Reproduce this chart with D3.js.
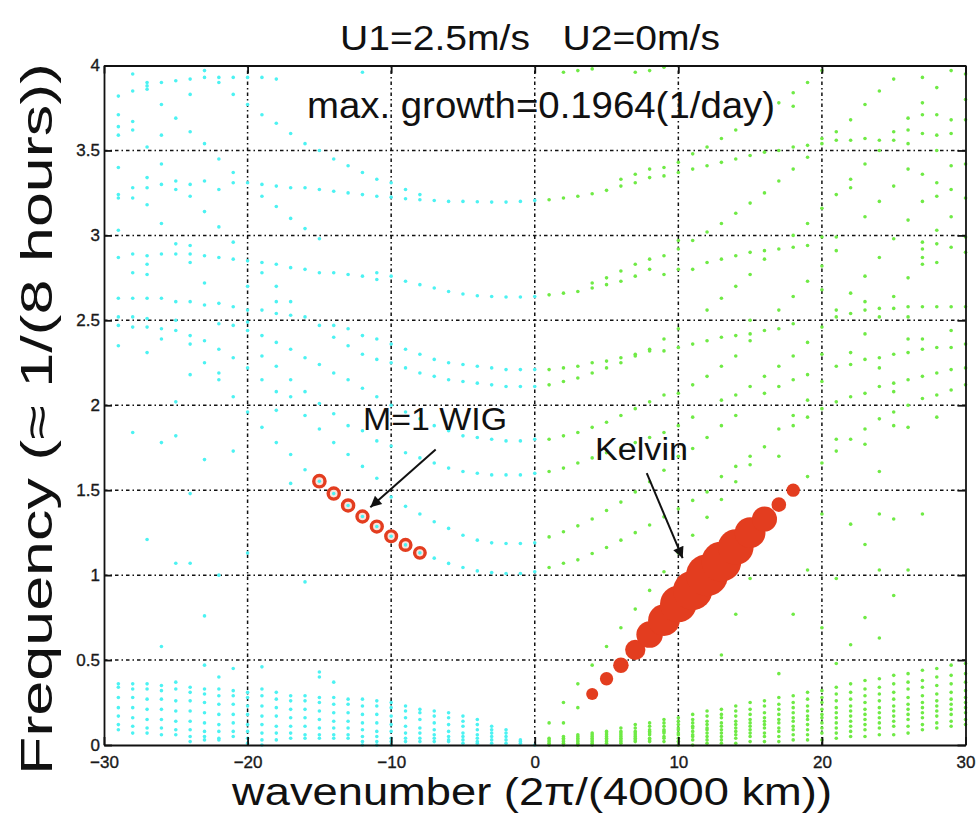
<!DOCTYPE html>
<html>
<head>
<meta charset="utf-8">
<script src="https://cdn.jsdelivr.net/npm/d3@7"></script>
<style>
  body { margin: 0; background: #fff; }
  text { font-family: 'Liberation Sans', Arial, sans-serif; }
</style>
</head>
<body>
<svg width="977" height="818"></svg>
<script>
// axis ticks
const xTicks = [-30, -20, -10, 0, 10, 20, 30]
const xTickLabels = ['\u221230', '\u221220', '\u221210', '0', '10', '20', '30']
const yTicks = [0, 0.5, 1, 1.5, 2, 2.5, 3, 3.5, 4]
const yTickLabels = ['0', '0.5', '1', '1.5', '2', '2.5', '3', '3.5', '4']

// unstable modes (circle size ~ growth rate, 1/day)
const kelvinK = [4, 5, 6, 7, 8, 9, 10, 11, 12, 13, 14, 15, 16, 17, 18]
const kelvinF = [0.30, 0.39, 0.47, 0.56, 0.65, 0.735, 0.83, 0.91, 1.0, 1.08, 1.165, 1.25, 1.33, 1.415, 1.5]
const kelvinGrowth = [0.033, 0.04, 0.052, 0.078, 0.112, 0.14, 0.167, 0.182, 0.1964, 0.185, 0.162, 0.135, 0.104, 0.047, 0.04]
const wigK = [-15, -14, -13, -12, -11, -10, -9, -8]
const wigF = [1.553, 1.48, 1.41, 1.345, 1.286, 1.229, 1.178, 1.131]
const wigGrowth = [0.031, 0.03, 0.03, 0.029, 0.029, 0.028, 0.028, 0.027]

// westward modes (cyan), each row: [wavenumber, frequencies...]
const westLow = [
  [-29, .36, .34, .28, .22, .17, .12, .09],
  [-28, .36, .33, .28, .22, .16, .11, .07],
  [-27, .36, .33, .27, .21, .15, .10, .07],
  [-26, .35, .32, .27, .21, .15, .10, .06],
  [-25, .37, .33, .26, .20, .14, .09, .06],
  [-24, .34, .31, .26, .20, .14, .09, .05, .02],
  [-23, .33, .30, .25, .19, .13, .08, .05, .03],
  [-22, .33, .29, .24, .18, .12, .08, .04, .03],
  [-21, .32, .29, .24, .18, .13, .08, .05],
  [-20, .31, .28, .23, .18, .12, .08, .04, .01],
  [-19, .33, .29, .23, .17, .12, .07, .03, 0],
  [-18, .31, .27, .22, .17, .11, .07, .03],
  [-17, .29, .26, .21, .16, .11, .07, .04],
  [-16, .29, .26, .21, .16, .11, .06, .04],
  [-15, .28, .25, .20, .15, .10, .06, .04],
  [-14, .28, .24, .19, .14, .10, .06, .04],
  [-13, .27, .24, .19, .14, .10, .06, .04],
  [-12, .27, .23, .18, .13, .09, .05, .02, 0],
  [-11, .26, .23, .18, .13, .08, .05, .02, 0],
  [-10, .25, .22, .17, .12, .08, .04, .02, 0],
  [-9, .23, .20, .16, .11, .07, .04, .02],
  [-8, .21, .19, .15, .10, .07, .04, .02],
  [-7, .20, .17, .13, .09, .06, .04, .02],
  [-6, .19, .16, .12, .08, .05, .03, .02],
  [-5, .17, .14, .11, .07, .05, .03, .01],
  [-4, .15, .12, .09, .06, .04, .02, .01],
  [-3, .11, .09, .07, .05, .03, .01],
  [-2, .09, .07, .05, .03, .01],
  [-1, .03, .02, .01],
  [0, 0]
]
const westHigh = [
  [-29, 3.82, 3.71, 3.64, 3.59, 3.40, 3.24, 3.22, 3.03, 2.87, 2.63, 2.52, 2.47, 2.35],
  [-28, 3.95, 3.85, 3.67, 3.62, 3.28, 3.22, 2.89, 2.78, 2.63, 2.52, 2.46, 1.84],
  [-27, 3.90, 3.88, 3.86, 3.52, 3.34, 3.28, 3.18, 2.88, 2.83, 2.77, 2.63, 2.51, 2.46, 2.31, 1.21],
  [-26, 3.90, 3.77, 3.59, 3.42, 3.30, 3.07, 2.89, 2.63, 2.45, 2.39, 1.78, 0.58],
  [-25, 3.91, 3.69, 3.32, 3.27, 2.95, 2.89, 2.61, 2.50, 2.44, 2.02, 1.82, 1.07],
  [-24, 3.92, 3.83, 3.61, 3.30, 3.23, 2.94, 2.89, 2.84, 2.61, 2.41, 2.36, 2.18, 1.48, 1.07],
  [-23, 3.97, 3.93, 3.54, 3.32, 3.14, 2.88, 2.72, 2.59, 2.38, 2.25, 1.68, 0.76, 0.47],
  [-22, 3.93, 3.90, 3.45, 3.27, 3.05, 2.87, 2.60, 2.48, 2.33, 2.19, 2.15, 1.0, 0.40],
  [-21, 3.93, 3.83, 3.37, 3.31, 2.96, 2.86, 2.58, 2.47, 2.28, 2.05, 1.73, 0.45],
  [-20, 3.93, 3.77, 3.31, 2.85, 2.70, 2.56, 2.49, 2.44, 2.22, 1.96, 1.13],
  [-19, 3.93, 3.71, 3.30, 3.23, 2.84, 2.78, 2.56, 2.41, 2.29, 2.15, 1.87, 0.46],
  [-18, 3.92, 3.66, 3.29, 3.17, 2.83, 2.70, 2.61, 2.54, 2.37, 2.23, 2.08, 1.97, 1.78],
  [-17, 3.60, 3.28, 3.10, 2.81, 2.61, 2.53, 2.33, 2.15, 2.05, 1.71, 1.54],
  [-16, 3.54, 3.28, 3.04, 2.80, 2.52, 2.28, 2.08, 1.94, 1.62, 0.96],
  [-15, 3.50, 3.27, 2.98, 2.78, 2.47, 2.24, 2.01, 1.86, 1.553, 0.43, 0.40],
  [-14, 3.45, 3.26, 2.78, 2.47, 2.40, 2.19, 1.95, 1.78, 1.48, 0.37],
  [-13, 3.41, 3.25, 2.77, 2.45, 2.35, 2.15, 1.88, 1.71, 1.41],
  [-12, 3.96, 3.37, 3.24, 2.76, 2.41, 2.30, 2.10, 1.85, 1.64, 1.345],
  [-11, 3.33, 3.23, 2.78, 2.74, 2.39, 2.27, 2.05, 1.79, 1.57, 1.286],
  [-10, 3.31, 3.225, 2.76, 2.36, 2.25, 2.0, 1.76, 1.46, 1.229],
  [-9, 3.27, 3.216, 2.73, 2.33, 2.22, 1.96, 1.72, 1.405, 1.178],
  [-8, 3.24, 3.21, 2.71, 2.30, 2.19, 1.92, 1.69, 1.36, 1.131],
  [-7, 3.205, 2.69, 2.27, 2.17, 1.88, 1.66, 1.314, 1.10],
  [-6, 3.20, 2.67, 2.25, 2.15, 1.85, 1.63, 1.275, 1.069],
  [-5, 3.20, 2.655, 2.24, 2.14, 1.82, 1.61, 1.235, 1.045],
  [-4, 3.198, 2.645, 2.23, 2.13, 1.81, 1.60, 1.206, 1.025],
  [-3, 3.196, 2.64, 2.22, 2.12, 1.80, 1.59, 1.19, 1.015],
  [-2, 3.196, 2.637, 2.21, 2.11, 1.79, 1.59, 1.186, 1.01],
  [-1, 3.20, 2.637, 2.21, 2.11, 1.79, 1.59, 1.186, 1.01],
  [0, 3.206, 2.64, 2.21, 2.11, 1.80, 1.60, 1.19, 1.02]
]

// eastward modes (green)
const eastLow = [
  [1, .04, .03, .02, .01, 0],
  [2, .05, .04, .03, .02, .01, 0],
  [3, .06, .05, .04, .03, .02, .01, 0],
  [4, .07, .06, .05, .04, .03, .02, .01, 0],
  [5, .08, .07, .06, .05, .04, .03, .02, .01],
  [6, .10, .08, .07, .06, .05, .04, .03, .02, .01],
  [7, .12, .10, .08, .07, .06, .05, .04, .03, .02],
  [8, .13, .11, .09, .08, .07, .06, .04, .03, .02],
  [9, .15, .13, .11, .09, .08, .07, .05, .04, .02],
  [10, .16, .14, .12, .10, .09, .07, .06, .04, .02, 0],
  [11, .18, .15, .13, .11, .10, .08, .06, .05, .03, 0],
  [12, .20, .17, .14, .12, .10, .09, .07, .05, .03, .01],
  [13, .21, .18, .16, .13, .11, .09, .07, .05, .03, .01],
  [14, .23, .20, .17, .14, .12, .10, .08, .06, .04, .01],
  [15, .25, .21, .18, .15, .13, .11, .09, .07, .05, .02],
  [16, .26, .23, .19, .16, .14, .12, .10, .07, .05, .02],
  [17, .28, .24, .21, .18, .15, .13, .10, .08, .05, .02],
  [18, .29, .25, .22, .19, .16, .14, .11, .09, .06, .03],
  [19, .31, .27, .23, .20, .17, .15, .12, .09, .06, .03],
  [20, .32, .28, .25, .21, .18, .16, .13, .10, .07, .03],
  [21, .34, .30, .26, .22, .19, .16, .13, .10, .07, .04],
  [22, .36, .31, .27, .23, .20, .17, .14, .11, .08, .05],
  [23, .38, .33, .29, .25, .21, .18, .15, .12, .09, .05],
  [24, .39, .34, .30, .26, .22, .19, .16, .13, .10, .06],
  [25, .41, .36, .31, .27, .23, .20, .17, .14, .11, .06],
  [26, .42, .37, .33, .28, .24, .21, .18, .15, .11, .07],
  [27, .44, .38, .34, .29, .25, .22, .19, .16, .12, .09],
  [28, .45, .40, .35, .30, .26, .23, .20, .17, .13, .10],
  [29, .47, .41, .36, .31, .27, .24, .21, .18, .14, .11],
  [30, .48, .42, .37, .32, .28, .25, .22, .19, .15, .12]
]
const eastHigh = [
  [1, 3.21, 2.65, 2.21, 2.12, 1.80, 1.61, 1.225, 1.045, 0.13],
  [2, 3.96, 3.22, 2.66, 2.22, 2.14, 1.82, 1.63, 1.255, 1.07, 0.25, 0.13],
  [3, 3.97, 3.23, 2.67, 2.23, 2.16, 1.84, 1.66, 1.29, 1.09, 0.36, 0.22],
  [4, 3.98, 3.245, 2.72, 2.69, 2.25, 2.19, 1.87, 1.69, 1.33, 1.127, 0.47],
  [5, 3.265, 2.75, 2.71, 2.26, 2.22, 1.90, 1.72, 1.38, 1.163, 0.58],
  [6, 3.33, 3.29, 2.79, 2.73, 2.28, 2.25, 1.94, 1.75, 1.43, 1.206, 0.69],
  [7, 3.96, 3.36, 3.31, 2.83, 2.76, 2.30, 2.29, 1.98, 1.78, 1.49, 1.25, 0.80],
  [8, 3.97, 3.39, 3.34, 2.86, 2.80, 2.33, 2.32, 2.02, 1.81, 1.55, 1.295, 0.91],
  [9, 3.99, 3.40, 3.35, 2.88, 2.77, 2.39, 2.32, 2.06, 1.84, 1.617, 1.343, 1.02],
  [10, 3.43, 3.37, 2.97, 2.92, 2.80, 2.45, 2.34, 2.07, 1.88, 1.70, 1.39, 1.13],
  [11, 3.48, 3.39, 2.97, 2.80, 2.36, 2.12, 1.93, 1.745, 1.44, 1.235],
  [12, 3.52, 3.41, 3.02, 2.84, 2.56, 2.38, 2.17, 1.81, 1.49, 1.34],
  [13, 3.57, 3.43, 3.07, 2.86, 2.63, 2.40, 2.23, 2.03, 1.88, 1.58, 1.445, 0.53],
  [14, 3.62, 3.45, 3.13, 2.88, 2.70, 2.41, 2.29, 2.06, 1.94, 1.64, 1.55, 0.77],
  [15, 3.47, 3.19, 2.90, 2.77, 2.50, 2.42, 2.38, 2.11, 1.70, 1.65, 0.98],
  [16, 3.49, 3.25, 2.91, 2.86, 2.44, 2.17, 2.07, 1.755],
  [17, 3.78, 3.50, 3.32, 2.92, 2.56, 2.45, 2.23, 2.11, 1.86, 1.70, 0.42],
  [18, 3.84, 3.76, 3.52, 3.39, 3.00, 2.93, 2.64, 2.48, 2.29, 2.15, 1.94, 1.88, 0.77],
  [19, 3.90, 3.53, 3.46, 3.07, 2.94, 2.73, 2.37, 2.18, 2.03, 1.93, 1.58, 1.03],
  [20, 3.97, 3.57, 3.54, 3.16, 2.99, 2.82, 2.68, 2.46, 2.30, 2.14, 1.98, 1.66, 1.36, 0.69],
  [21, 3.61, 3.56, 3.24, 2.99, 2.91, 2.56, 2.52, 2.23, 2.02, 1.80, 1.73, 0.98, 0.48],
  [22, 3.68, 3.56, 3.33, 3.28, 2.66, 2.54, 2.31, 2.24, 2.05, 1.80, 1.30, 0.59],
  [23, 3.77, 3.57, 3.42, 3.11, 2.76, 2.61, 2.56, 2.42, 2.27, 2.07, 1.86, 1.77, 1.18, 0.75],
  [24, 3.85, 3.56, 3.50, 3.20, 2.87, 2.57, 2.52, 2.28, 2.22, 2.11, 1.92, 1.61, 1.36, 1.03, 0.63],
  [25, 3.92, 3.61, 3.56, 3.29, 2.98, 2.64, 2.57, 2.30, 2.13, 2.08, 1.96, 1.88, 1.33, 0.88],
  [26, 3.69, 3.62, 3.54, 3.39, 3.09, 2.75, 2.58, 2.52, 2.39, 2.31, 2.15, 2.0, 1.87, 1.03],
  [27, 3.93, 3.78, 3.71, 3.60, 3.36, 3.20, 2.96, 2.92, 2.87, 2.83, 2.58, 2.39, 2.33, 2.17, 2.04, 1.36],
  [28, 3.87, 3.71, 3.59, 3.50, 3.31, 3.23, 3.03, 2.95, 2.84, 2.58, 2.34, 2.19, 2.06, 1.93],
  [29, 3.97, 3.68, 3.60, 3.41, 3.27, 3.11, 2.93, 2.58, 2.44, 2.34, 2.21, 2.09],
  [30, 3.95, 3.80, 3.68, 3.42, 3.22, 2.99, 2.90, 2.58, 2.36, 2.22, 2.12]
]

const svg = d3.select('svg')

const x = d3.scaleLinear().domain([-30, 30]).range([104, 965.5])
const y = d3.scaleLinear().domain([0, 4]).range([745, 65.5])
const r = d3.scaleLinear().domain([0, 0.1964]).range([3, 21])

const cyan = '#4cf2f2'
const green = '#6fea45'
const red = '#e33d1f'

// rows -> points
const toPoints = rows => rows.flatMap(row => row.slice(1).map(f => ({ k: row[0], f })))

// grid
const grid = svg.append('g').attr('class', 'grid')
  .attr('stroke', '#111').attr('stroke-width', 1.5).attr('stroke-dasharray', '3.5,3,1.5,3')
grid.selectAll('.gx').data(xTicks.slice(1, -1)).enter().append('line')
  .attr('x1', d => x(d)).attr('x2', d => x(d)).attr('y1', y(0)).attr('y2', y(4))
grid.selectAll('.gy').data(yTicks.slice(1, -1)).enter().append('line')
  .attr('x1', x(-30)).attr('x2', x(30)).attr('y1', d => y(d)).attr('y2', d => y(d))

// unstable modes
const wig = wigK.map((k, i) => ({ k, f: wigF[i], g: wigGrowth[i] }))
const kelvin = kelvinK.map((k, i) => ({ k, f: kelvinF[i], g: kelvinGrowth[i] }))

svg.append('g').selectAll('circle').data(kelvin).enter().append('circle')
  .attr('cx', d => x(d.k)).attr('cy', d => y(d.f)).attr('r', d => r(d.g))
  .attr('fill', red)

svg.append('g').selectAll('circle').data(wig).enter().append('circle')
  .attr('cx', d => x(d.k)).attr('cy', d => y(d.f)).attr('r', d => r(d.g) - 0.2)
  .attr('fill', '#fbe3dc').attr('stroke', red).attr('stroke-width', 3.4)

// dispersion dots
const drawDots = (rows, color) => {
  svg.append('g').selectAll('circle').data(toPoints(rows)).enter().append('circle')
    .attr('cx', d => x(d.k)).attr('cy', d => y(d.f)).attr('r', 1.8)
    .attr('fill', color)
}
drawDots(westLow, cyan)
drawDots(westHigh, cyan)
drawDots(eastLow, green)
drawDots(eastHigh, green)

// axes (ticks inside, box on all sides)
const styleAxis = g => {
  g.attr('font-size', 17).attr('font-family', "'Liberation Sans', Arial, sans-serif")
  g.select('.domain').attr('stroke', '#111').attr('stroke-width', 1.8)
  g.selectAll('.tick line').attr('stroke', '#111').attr('stroke-width', 1.8)
  g.selectAll('.tick text').attr('fill', '#1a1a1a')
    .attr('stroke', '#1a1a1a').attr('stroke-width', 0.35)
}
svg.append('g').attr('transform', `translate(0,${y(0)})`)
  .call(d3.axisBottom(x).tickValues(xTicks).tickFormat((d, i) => xTickLabels[i])
    .tickSizeInner(-8).tickSizeOuter(0).tickPadding(11))
  .call(styleAxis)
svg.append('g').attr('transform', `translate(0,${y(4)})`)
  .call(d3.axisTop(x).tickValues(xTicks).tickSizeInner(-8).tickSizeOuter(0))
  .call(styleAxis)
  .call(g => g.selectAll('.tick text').remove())
svg.append('g').attr('transform', `translate(${x(-30)},0)`)
  .call(d3.axisLeft(y).tickValues(yTicks).tickFormat((d, i) => yTickLabels[i])
    .tickSizeInner(-8).tickSizeOuter(0).tickPadding(4))
  .call(styleAxis)
svg.append('g').attr('transform', `translate(${x(30)},0)`)
  .call(d3.axisRight(y).tickValues(yTicks).tickSizeInner(-8).tickSizeOuter(0))
  .call(styleAxis)
  .call(g => g.selectAll('.tick text').remove())

// labels
const label = (txt, px, py, size, len) =>
  svg.append('text').attr('x', px).attr('y', py).attr('font-size', size)
    .attr('fill', '#111').attr('xml:space', 'preserve').style('white-space', 'pre')
    .attr('textLength', len).attr('lengthAdjust', 'spacingAndGlyphs').text(txt)

label('U1=2.5m/s   U2=0m/s', 340, 50, 35, 380)
label('max. growth=0.1964(1/day)', 307, 118, 37, 468)
label('M=1 WIG', 363, 430, 31, 144)
label('Kelvin', 595, 460, 31, 93)
label('wavenumber (2\u03c0/(40000 km))', 232, 805, 38, 600)
svg.append('text').attr('transform', 'translate(52,775) rotate(-90)')
  .attr('font-size', 44).attr('fill', '#111')
  .attr('textLength', 712).attr('lengthAdjust', 'spacingAndGlyphs')
  .text('Frequency (\u2248 1/(8 hours))')

// arrows
svg.append('defs').append('marker').attr('id', 'head')
  .attr('viewBox', '0 0 10 10').attr('refX', 10).attr('refY', 5)
  .attr('markerWidth', 18).attr('markerHeight', 11).attr('markerUnits', 'userSpaceOnUse')
  .attr('orient', 'auto')
  .append('path').attr('d', 'M0,0L10,5L0,10z').attr('fill', '#111')

const arrows = [
  { from: [-6.9, 1.74], to: [-11.45, 1.40] },
  { from: [7.8, 1.6], to: [10.3, 1.1] }
]
svg.append('g').selectAll('line').data(arrows).enter().append('line')
  .attr('x1', d => x(d.from[0])).attr('y1', d => y(d.from[1]))
  .attr('x2', d => x(d.to[0])).attr('y2', d => y(d.to[1]))
  .attr('stroke', '#111').attr('stroke-width', 2).attr('marker-end', 'url(#head)')
</script>
</body>
</html>
